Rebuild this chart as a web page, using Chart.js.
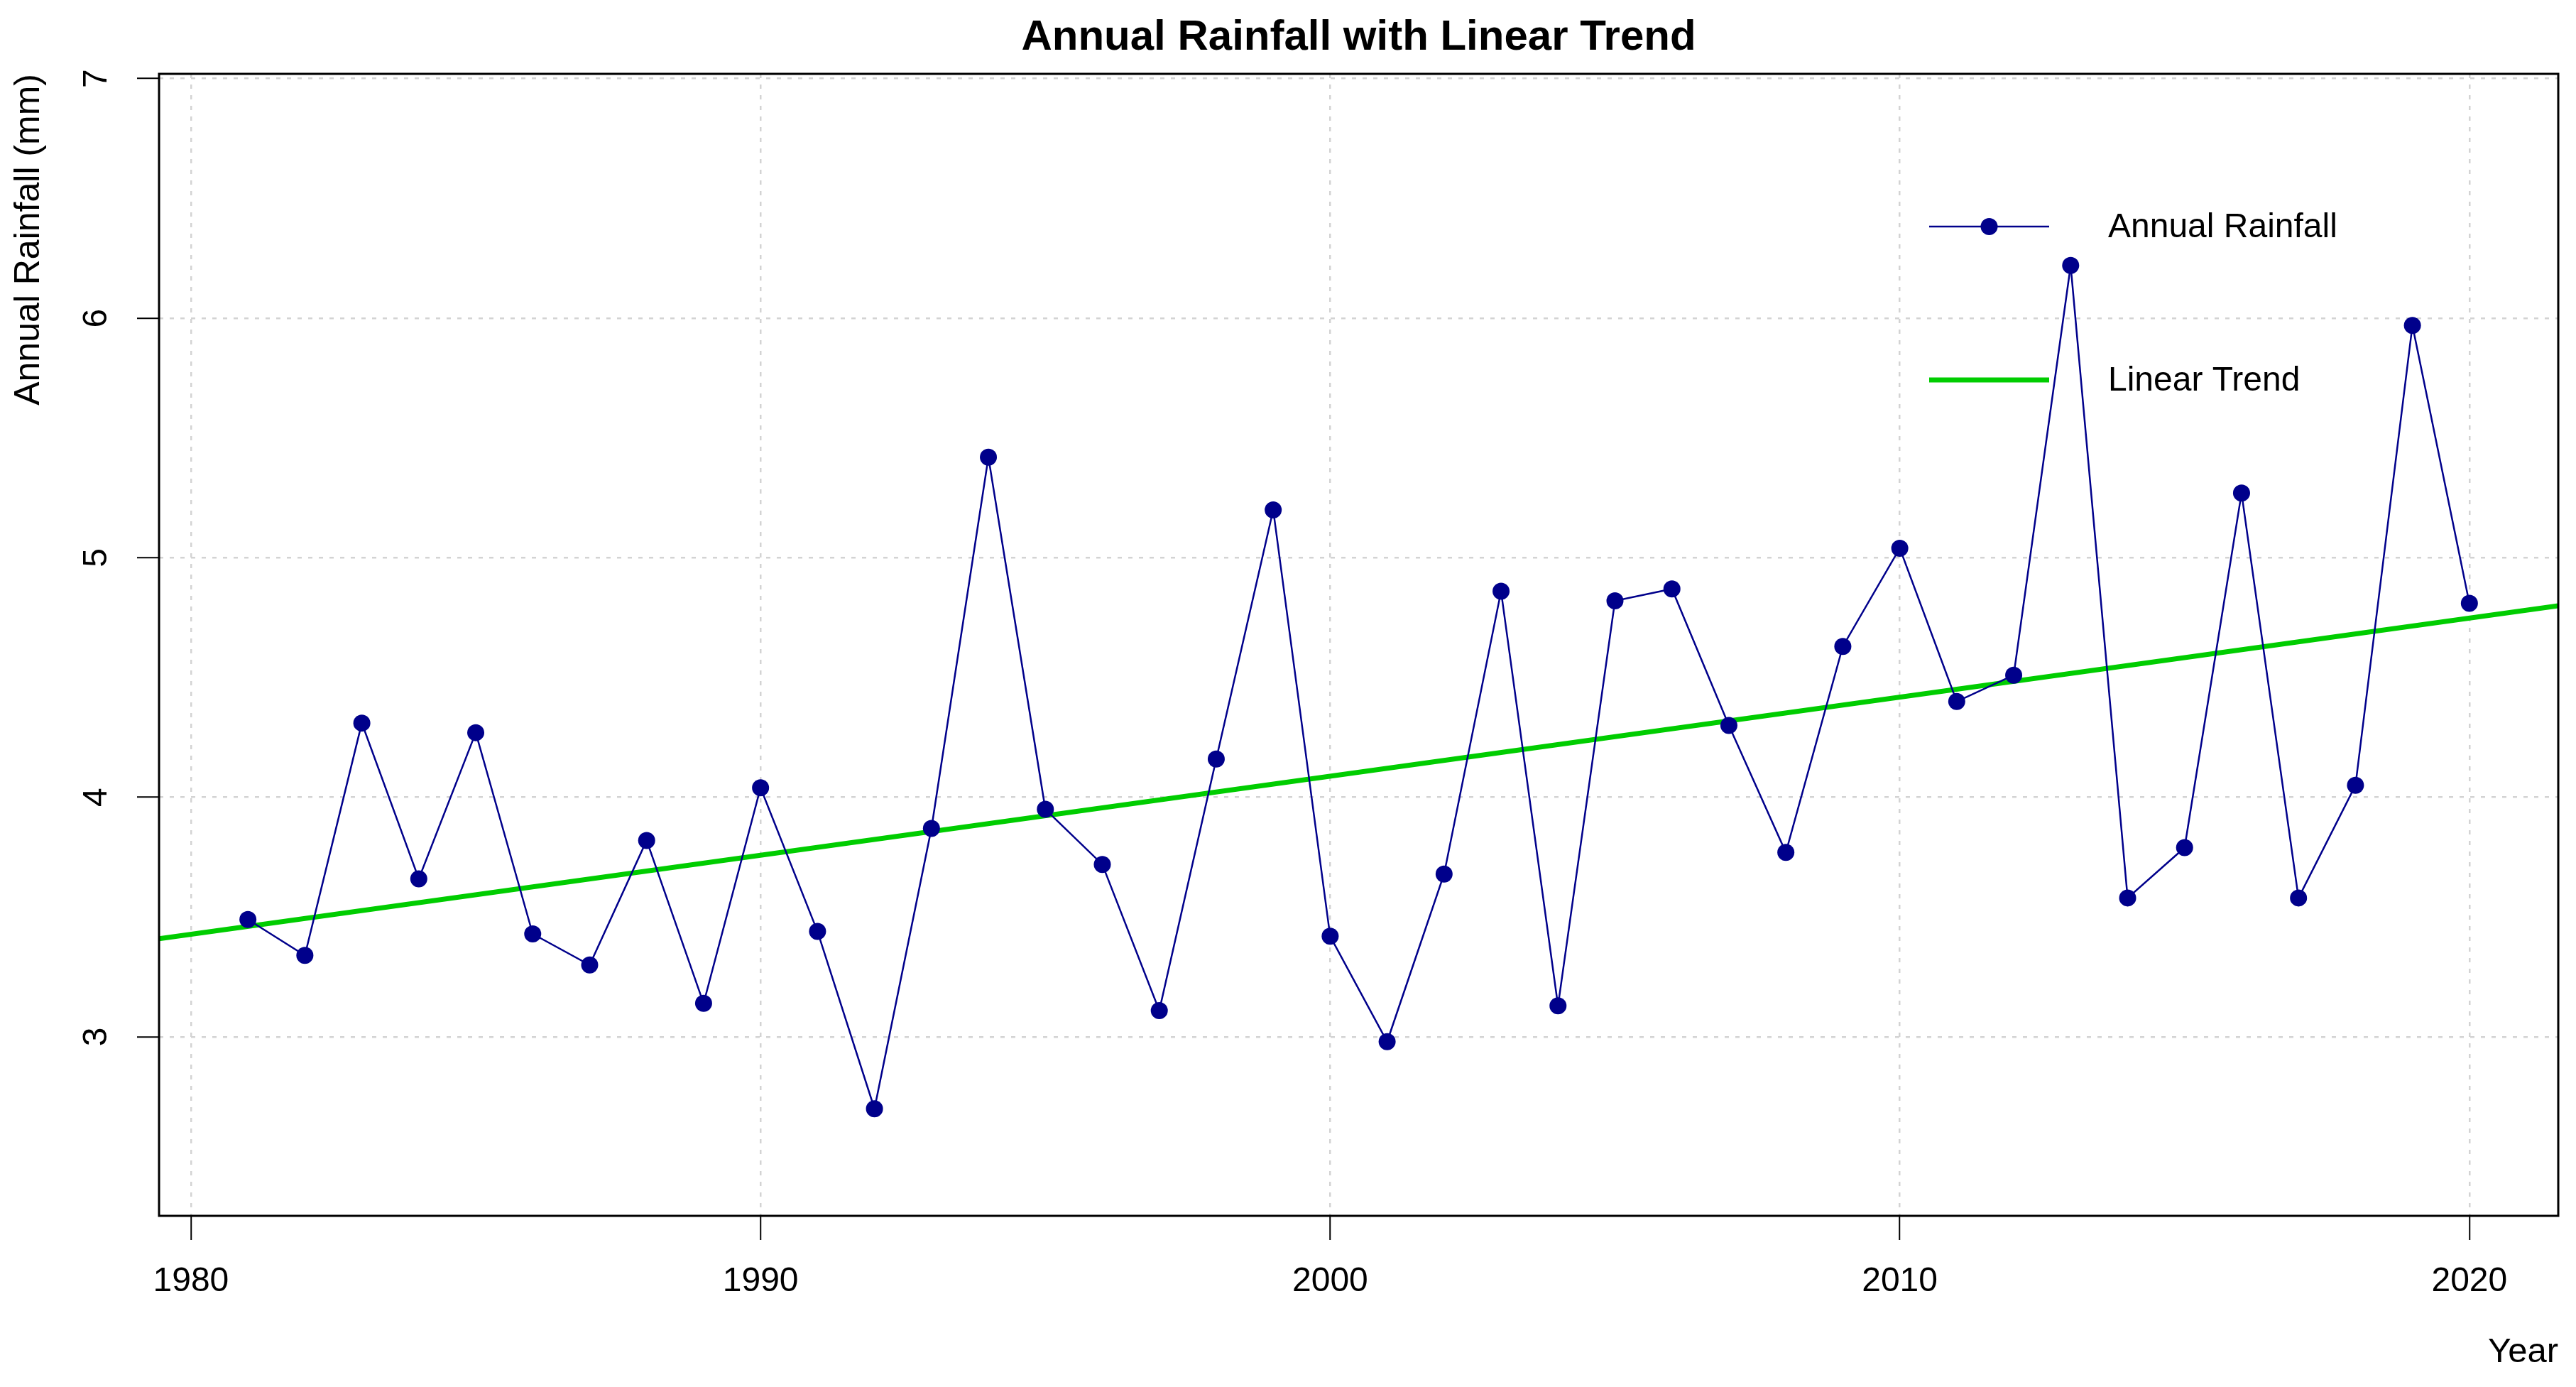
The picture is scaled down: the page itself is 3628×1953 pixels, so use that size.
<!DOCTYPE html>
<html>
<head>
<meta charset="utf-8">
<title>Annual Rainfall with Linear Trend</title>
<script src="https://cdn.jsdelivr.net/npm/chart.js@4.4.1/dist/chart.umd.min.js"></script>
<style>
  html, body { margin: 0; padding: 0; background: #ffffff; }
  canvas { display: block; }
</style>
</head>
<body>
<canvas id="rainChart" width="3628" height="1953" style="width:3628px;height:1953px"></canvas>
<script>
// Data
var years = [1981, 1982, 1983, 1984, 1985, 1986, 1987, 1988, 1989, 1990,
             1991, 1992, 1993, 1994, 1995, 1996, 1997, 1998, 1999, 2000,
             2001, 2002, 2003, 2004, 2005, 2006, 2007, 2008, 2009, 2010,
             2011, 2012, 2013, 2014, 2015, 2016, 2017, 2018, 2019, 2020];
var rainfall = [3.49, 3.34, 4.31, 3.66, 4.27, 3.43, 3.30, 3.82, 3.14, 4.04,
                3.44, 2.70, 3.87, 5.42, 3.95, 3.72, 3.11, 4.16, 5.20, 3.42,
                2.98, 3.68, 4.86, 3.13, 4.82, 4.87, 4.30, 3.77, 4.63, 5.04,
                4.40, 4.51, 6.22, 3.58, 3.79, 5.27, 3.58, 4.05, 5.97, 4.81];

// trend line, read at the left and right edges of the plot
var trendYears = [1979.44, 2021.56];
var trendValues = [3.41, 4.80];

var xTicks = [1980, 1990, 2000, 2010, 2020];
var yTicks = [3, 4, 5, 6, 7];
var xRange = [1979.44, 2021.56];
var yRange = [2.253, 7.02];

Chart.defaults.font.family = "'Liberation Sans', Arial, sans-serif";
Chart.defaults.font.size = 48;
Chart.defaults.color = '#000000';

function toPoints(xs, ys) {
    return xs.map(function (x, i) {
        return { x: x, y: ys[i] };
    });
}

// plot box and the R style legend (line with a dot in the middle)
var boxAndLegend = {
    id: 'boxAndLegend',
    afterDraw: function (chart) {
        var ctx = chart.ctx;
        var a = chart.chartArea;
        ctx.save();
        ctx.strokeStyle = '#000000';
        ctx.lineWidth = 3;
        ctx.strokeRect(a.left, a.top, a.right - a.left, a.bottom - a.top);

        var x1 = a.right - 886, x2 = a.right - 717, tx = a.right - 634;
        var rows = [a.top + 215, a.top + 431];
        ctx.font = '48px ' + Chart.defaults.font.family;
        ctx.textBaseline = 'middle';
        ctx.textAlign = 'left';
        chart.data.datasets.forEach(function (ds, i) {
            var y = rows[i];
            ctx.strokeStyle = ds.borderColor;
            ctx.lineWidth = ds.borderWidth;
            ctx.beginPath();
            ctx.moveTo(x1, y);
            ctx.lineTo(x2, y);
            ctx.stroke();
            if (ds.pointRadius > 0) {
                ctx.fillStyle = ds.pointBackgroundColor;
                ctx.beginPath();
                ctx.arc((x1 + x2) / 2, y, ds.pointRadius, 0, Math.PI * 2);
                ctx.fill();
            }
            ctx.fillStyle = '#000000';
            ctx.fillText(ds.label, tx, y + 2);
        });
        ctx.restore();
    }
};

var ctx = document.getElementById('rainChart').getContext('2d');
var rainChart = new Chart(ctx, {
    type: 'line',
    data: {
        datasets: [
            {
                label: 'Annual Rainfall',
                data: toPoints(years, rainfall),
                borderColor: '#00008B',
                backgroundColor: '#00008B',
                borderWidth: 2.5,
                pointRadius: 12,
                pointBackgroundColor: '#00008B',
                pointBorderWidth: 0,
                pointHoverRadius: 12,
                tension: 0,
                fill: false
            },
            {
                label: 'Linear Trend',
                data: toPoints(trendYears, trendValues),
                borderColor: '#00CD00',
                backgroundColor: '#00CD00',
                borderWidth: 7,
                pointRadius: 0,
                tension: 0,
                fill: false
            }
        ]
    },
    options: {
        responsive: false,
        animation: false,
        devicePixelRatio: 1,
        layout: {
            padding: { left: 0, right: 25, top: 0, bottom: 0 }
        },
        scales: {
            x: {
                type: 'linear',
                min: xRange[0],
                max: xRange[1],
                afterBuildTicks: function (scale) {
                    scale.ticks = xTicks.map(function (v) { return { value: v }; });
                },
                afterFit: function (scale) {
                    scale.height = 241;
                },
                ticks: {
                    padding: 30,
                    maxRotation: 0,
                    autoSkip: false,
                    font: { size: 48 },
                    callback: function (value) { return String(value); }
                },
                grid: {
                    color: '#D3D3D3',
                    lineWidth: 2.5,
                    drawTicks: true,
                    tickLength: 34,
                    tickColor: '#000000',
                    tickWidth: 2,
                    tickBorderDash: []
                },
                border: { display: false, dash: [6, 9] },
                title: {
                    display: true,
                    text: 'Year',
                    align: 'end',
                    font: { size: 49 },
                    padding: { top: 0, bottom: 19 }
                }
            },
            y: {
                type: 'linear',
                min: yRange[0],
                max: yRange[1],
                afterBuildTicks: function (scale) {
                    scale.ticks = yTicks.map(function (v) { return { value: v }; });
                },
                afterFit: function (scale) {
                    scale.width = 224;
                },
                ticks: {
                    padding: 43,
                    minRotation: 90,
                    maxRotation: 90,
                    crossAlign: 'center',
                    autoSkip: false,
                    font: { size: 48 },
                    callback: function (value) { return String(value); }
                },
                grid: {
                    color: '#D3D3D3',
                    lineWidth: 2.5,
                    drawTicks: true,
                    tickLength: 31,
                    tickColor: '#000000',
                    tickWidth: 2,
                    tickBorderDash: []
                },
                border: { display: false, dash: [6, 9] },
                title: {
                    display: true,
                    text: 'Annual Rainfall (mm)',
                    align: 'end',
                    font: { size: 50 },
                    padding: { top: 11, bottom: 0 }
                }
            }
        },
        plugins: {
            legend: { display: false },
            tooltip: { enabled: false },
            title: {
                display: true,
                text: 'Annual Rainfall with Linear Trend',
                fullSize: false,
                font: { size: 60, weight: 'bold' },
                padding: { top: 17, bottom: 15 }
            }
        }
    },
    plugins: [boxAndLegend]
});
</script>
</body>
</html>
